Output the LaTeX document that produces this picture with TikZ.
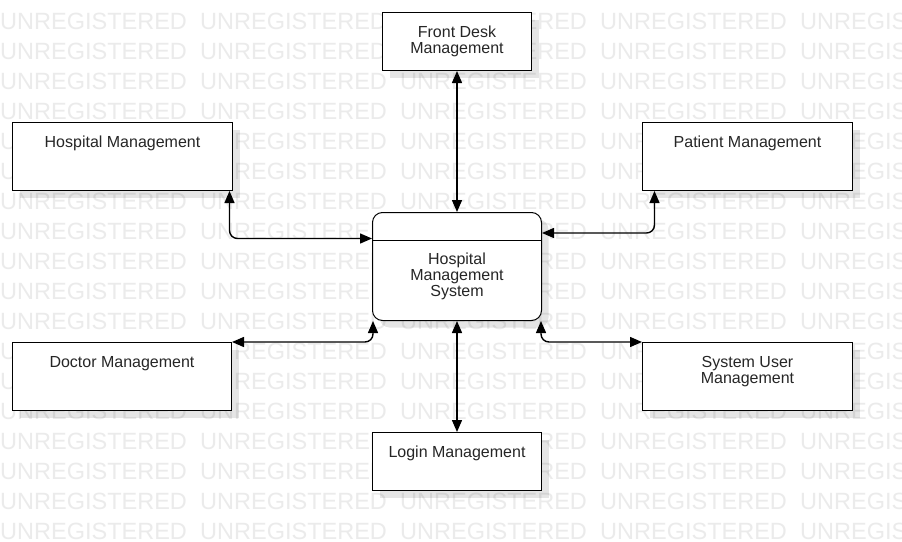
\documentclass[tikz,border=0pt]{standalone}
\usepackage{fontspec}
\setmainfont{Liberation Sans}
\usetikzlibrary{shadows}
\usetikzlibrary{positioning}
\usetikzlibrary{arrows.meta}
\tikzstyle{block}=[rectangle,draw=black,fill=white,line width=1pt,inner sep=0pt,drop shadow={shadow xshift=7pt,shadow yshift=-7pt,fill=black,opacity=0.1}]
\tikzstyle{roundblock}=[block,rounded corners=10pt]
\tikzstyle{blocktext}=[align=center,inner sep=0pt,text=black!85,font=\fontsize{16}{16}\selectfont]
\tikzstyle{link}=[draw,line width=1.4pt,rounded corners=8pt,{Triangle[length=12pt,width=10pt]}-{Triangle[length=12pt,width=10pt]}]
\tikzstyle{watermark}=[anchor=base west,inner sep=0pt,text=black!8,font=\fontsize{23.5}{23.5}\selectfont]

\begin{document}
\begin{tikzpicture}[x=1pt, y=-1pt]
    \useasboundingbox (0,0) rectangle (902,541);
    \clip (0,0) rectangle (902,541);
    \fill[white] (0,0) rectangle (902,541);

    % Background watermark
    \foreach \row in {0,...,17}
        \foreach \col in {0,...,4}
            \node[watermark] (wm-\row-\col) at (200*\col, 29.5+30*\row) {UNREGISTERED};

    % First we draw the blocks
    \node[roundblock, minimum width=169pt, minimum height=108pt] (central) at (457, 266.5) {};
    \foreach \pos/\name/\w/\h in {{(457,41.5)/front/149/58}, {(122.5,156.5)/hosp/220/68}, {(747.5,156.5)/patient/210/68}, {(122,376.5)/doctor/219/68}, {(747.5,376.5)/sysuser/210/68}, {(457,461.5)/login/169/58}}
        \node[block, minimum width=\w pt, minimum height=\h pt] (\name) at \pos {};

    \coordinate (divl) at ([yshift=-28.5pt]central.north west);
    \coordinate (divr) at ([yshift=-28.5pt]central.north east);
    \draw[line width=1pt] (divl) -- (divr);

    % Then the texts
    \node[blocktext, below=40.5pt of central.north] (centraltext) {Hospital\\Management\\System};
    \node[blocktext, below=14pt of front.north] (fronttext) {Front Desk\\Management};
    \node[blocktext, below=14pt of hosp.north] (hosptext) {Hospital Management};
    \node[blocktext, below=14pt of patient.north] (patienttext) {Patient Management};
    \node[blocktext, below=14pt of doctor.north] (doctortext) {Doctor Management};
    \node[blocktext, below=14pt of sysuser.north] (sysusertext) {System User\\Management};
    \node[blocktext, below=14pt of login.north] (logintext) {Login Management};

    % Connect blocks with the system
    \path[link] (front.south) -- (central.north);
    \path[link] ([xshift=-3.5pt]hosp.south east) |- ([yshift=-26.5pt]central.north west);
    \path[link] ([xshift=12.5pt]patient.south west) |- ([yshift=-21pt]central.north east);
    \path[link] ([xshift=1pt]central.south west) |- (doctor.north east);
    \path[link] ([xshift=-1pt]central.south east) |- (sysuser.north west);
    \path[link] (central.south) -- (login.north);
\end{tikzpicture}
\end{document}
